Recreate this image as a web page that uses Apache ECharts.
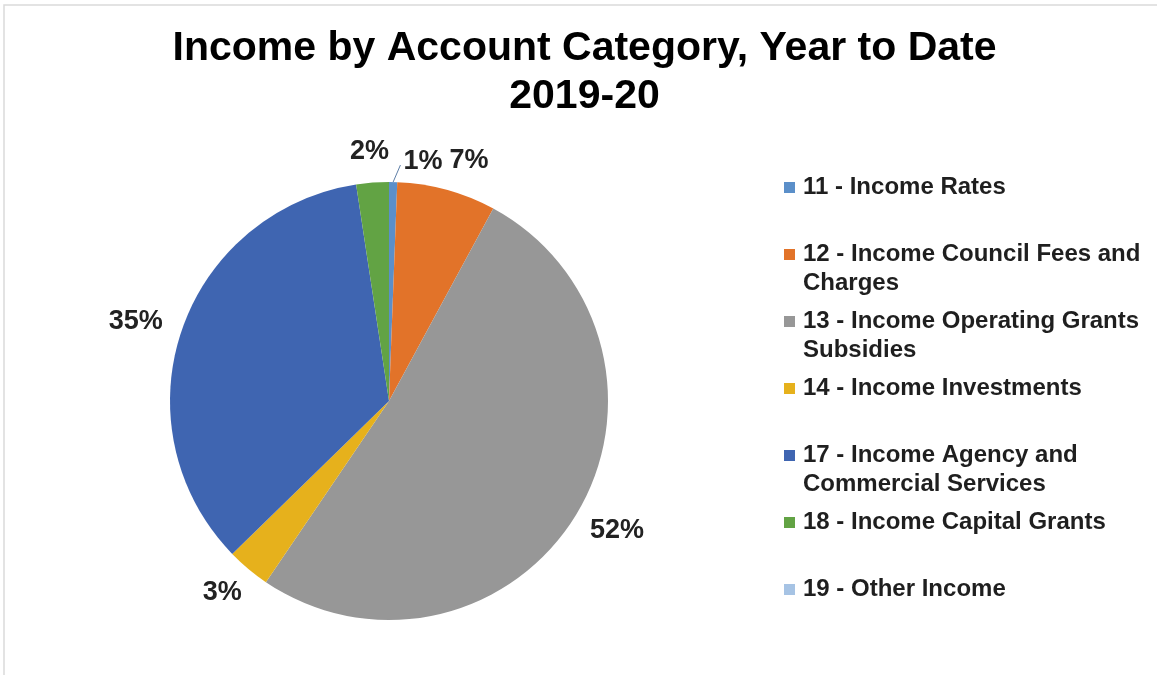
<!DOCTYPE html>
<html>
<head>
<meta charset="utf-8">
<title>Income by Account Category, Year to Date 2019-20</title>
<script src="https://cdn.jsdelivr.net/npm/echarts@6/dist/echarts.min.js"></script>
<style>
  html, body { margin: 0; padding: 0; background: #fff; }
  #chart { width: 1157px; height: 675px; }
</style>
</head>
<body>
<div id="chart"></div>
<script>
// Chart text
const titleLines = ['Income by Account Category, Year to Date', '2019-20'];

// Account categories (clockwise from 12 o'clock) and their share of income, %
const categories = [
  '11 - Income Rates',
  '12 - Income Council Fees and Charges',
  '13 - Income Operating Grants Subsidies',
  '14 - Income Investments',
  '17 - Income Agency and Commercial Services',
  '18 - Income Capital Grants',
  '19 - Other Income'
];
const shares = [0.6, 7.3, 51.6, 3.2, 34.9, 2.4, 0];

// Slice colours, one per category
const colors = ['#5b8fc9', '#e27329', '#979797', '#e6b11c', '#3f65b1', '#62a344', '#a6c3e4'];

// Layout and style constants
const FONT = '"Liberation Sans", Arial, Helvetica, sans-serif';
const CX = 389, CY = 401, R = 219;   // pie centre and radius
const LABEL_GAP = 21;                // rim to label anchor
const LEADER = 16;                   // length of the leader line for thin slices
const LABEL_FONT = 27;
const LINE_H = 29;                   // legend line height
const SLOT = 67;                     // legend spacing between entries
const WRAP = 28;                     // legend wrap width, characters

// Word-wrap a legend name, then pad it to three lines with the name's
// first line in the middle, so the swatch sits level with that line.
function legendText(name) {
  const words = name.split(' ');
  const lines = [];
  let cur = '';
  words.forEach(w => {
    const next = cur ? cur + ' ' + w : w;
    if (next.length > WRAP && cur) { lines.push(cur); cur = w; }
    else cur = next;
  });
  if (cur) lines.push(cur);
  const padded = [''].concat(lines);
  while (padded.length < 3) padded.push('');
  return padded.join('\n');
}

const total = shares.reduce((a, b) => a + b, 0);
const before = [];
shares.reduce((acc, v) => { before.push(acc); return acc + v; }, 0);

const pieData = categories.map((name, i) => ({
  name,
  value: shares[i],
  itemStyle: { color: colors[i] },
  label: { show: shares[i] > 0 },
  labelLine: { show: shares[i] > 0 && shares[i] < 1 }
}));

let thinRight = null;   // right edge of the last thin-slice label

const chart = echarts.init(document.getElementById('chart'));
chart.setOption({
  animation: false,
  backgroundColor: '#fff',
  title: {
    text: titleLines.join('\n'),
    left: 584.5,
    top: 25,
    padding: 0,
    textAlign: 'center',
    textStyle: {
      fontFamily: FONT,
      fontSize: 41,
      fontWeight: 'bold',
      color: '#000',
      lineHeight: 48
    }
  },
  legend: {
    orient: 'vertical',
    left: 784,
    top: 144,
    padding: 0,
    itemGap: SLOT - 3 * LINE_H,
    itemWidth: 11,
    itemHeight: 11,
    icon: 'rect',
    selectedMode: false,
    data: categories,
    formatter: legendText,
    textStyle: {
      fontFamily: FONT,
      fontSize: 24,
      fontWeight: 'bold',
      color: '#1f1f1f',
      lineHeight: LINE_H,
      padding: [0, 0, 0, 3]
    }
  },
  graphic: [{
    type: 'rect',
    silent: true,
    z: -10,
    shape: { x: 4, y: 5, width: 1200, height: 720 },
    style: { fill: 'none', stroke: '#dadada', lineWidth: 1.5 }
  }],
  series: [{
    type: 'pie',
    center: [CX, CY],
    radius: R,
    startAngle: 90,
    clockwise: true,
    percentPrecision: 0,
    avoidLabelOverlap: false,
    emphasis: { disabled: true },
    itemStyle: { borderWidth: 0 },
    label: {
      position: 'outside',
      formatter: '{d}%',
      fontFamily: FONT,
      fontSize: LABEL_FONT,
      fontWeight: 'bold',
      color: '#222'
    },
    labelLine: {
      show: false,
      lineStyle: { color: '#5f7fa8', width: 1 }
    },
    // Labels sit just outside the rim along each slice's mid-angle;
    // a thin slice gets its label set to the side with a leader line,
    // and the next label is kept clear of it.
    labelLayout: function (p) {
      const i = p.dataIndex;
      if (i === 0) thinRight = null;
      const a = (before[i] + shares[i] / 2) / total * 2 * Math.PI;
      const dx = Math.sin(a), dy = -Math.cos(a);
      const w = p.labelRect.width;
      const hc = LABEL_FONT * 0.72;
      if (shares[i] < 1) {
        const ex = CX + dx * R, ey = CY + dy * R;
        const tx = CX + dx * (R + LEADER), ty = CY + dy * (R + LEADER);
        const left = tx + 10;
        thinRight = left + w;
        return {
          x: left, y: ty - 4, align: 'left', verticalAlign: 'middle',
          labelLinePoints: [[ex, ey], [tx + 7, ty - 1]]
        };
      }
      const D = R + LABEL_GAP;
      let x = CX + dx * (D + w / 2);
      const y = CY + dy * (D + hc / 2);
      if (thinRight !== null && dx > 0 && x - w / 2 < thinRight + 7) {
        x = thinRight + 7 + w / 2;
      }
      thinRight = null;
      return { x, y, align: 'center', verticalAlign: 'middle' };
    },
    data: pieData
  }]
});
</script>
</body>
</html>
